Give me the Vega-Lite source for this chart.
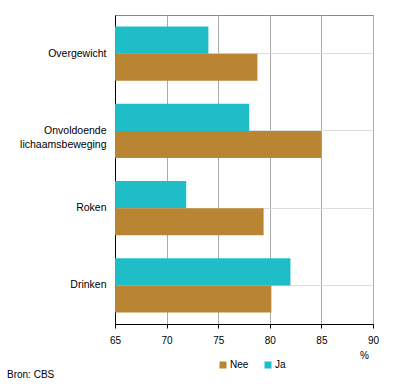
{
  "$schema": "https://vega.github.io/schema/vega-lite/v6.json",
  "width": 258,
  "height": 309,
  "autosize": {"type": "none"},
  "padding": {"left": 115, "top": 15, "right": 23, "bottom": 65},
  "background": "white",
  "title": {"text": "Bron: CBS", "orient": "bottom", "anchor": "start", "frame": "group", "dx": -108, "offset": 0, "fontSize": 10, "font": "Liberation Sans", "fontWeight": "normal", "color": "black"},
  "data": {
    "values": [
      {"categorie": "Overgewicht", "groep": "Ja", "waarde": 74.05},
      {"categorie": "Overgewicht", "groep": "Nee", "waarde": 78.8},
      {"categorie": "Onvoldoende lichaamsbeweging", "groep": "Ja", "waarde": 78.0},
      {"categorie": "Onvoldoende lichaamsbeweging", "groep": "Nee", "waarde": 85.0},
      {"categorie": "Roken", "groep": "Ja", "waarde": 71.9},
      {"categorie": "Roken", "groep": "Nee", "waarde": 79.4},
      {"categorie": "Drinken", "groep": "Ja", "waarde": 82.0},
      {"categorie": "Drinken", "groep": "Nee", "waarde": 80.15}
    ]
  },
  "mark": {"type": "bar", "clip": true},
  "encoding": {
    "y": {
      "field": "categorie",
      "type": "nominal",
      "sort": ["Overgewicht", "Onvoldoende lichaamsbeweging", "Roken", "Drinken"],
      "scale": {"paddingInner": 0.3, "paddingOuter": 0.15},
      "axis": {
        "title": null,
        "ticks": false,
        "domainColor": "black",
        "labelFont": "Liberation Sans",
        "labelFontSize": 10.5,
        "labelColor": "black",
        "labelPadding": 9,
        "labelLineHeight": 14,
        "labelExpr": "datum.label == 'Onvoldoende lichaamsbeweging' ? ['Onvoldoende', 'lichaamsbeweging'] : datum.label"
      }
    },
    "yOffset": {"field": "groep", "sort": ["Ja", "Nee"]},
    "x": {
      "field": "waarde",
      "type": "quantitative",
      "scale": {"domain": [65, 90], "zero": false, "nice": false},
      "axis": {
        "values": [65, 70, 75, 80, 85, 90],
        "title": "%",
        "titleFont": "Liberation Sans",
        "titleFontSize": 10,
        "titleFontWeight": "normal",
        "titleColor": "black",
        "titleAlign": "center",
        "titleBaseline": "top",
        "titleAnchor": null,
        "titleX": 249,
        "titleY": 26,
        "domainColor": "black",
        "tickColor": "black",
        "tickSize": 4,
        "labelFont": "Liberation Sans",
        "labelFontSize": 10,
        "labelColor": "black",
        "labelPadding": 7,
        "labelFlush": false,
        "gridColor": "#aaaaaa",
        "gridOpacity": 1
      }
    },
    "x2": {"datum": 65},
    "color": {
      "field": "groep",
      "type": "nominal",
      "scale": {"domain": ["Nee", "Ja"], "range": ["#BA8532", "#1FBDC7"]},
      "legend": {
        "title": null,
        "orient": "none",
        "direction": "horizontal",
        "legendX": 103,
        "legendY": 345,
        "symbolType": "square",
        "symbolSize": 49,
        "symbolStrokeWidth": 0,
        "symbolOpacity": 1,
        "labelFont": "Liberation Sans",
        "labelFontSize": 10,
        "labelColor": "black",
        "labelOffset": 2,
        "columnPadding": 14,
        "padding": 0
      }
    }
  },
  "config": {
    "view": {"stroke": "#888888", "strokeWidth": 1},
    "axis": {"grid": true}
  }
}
